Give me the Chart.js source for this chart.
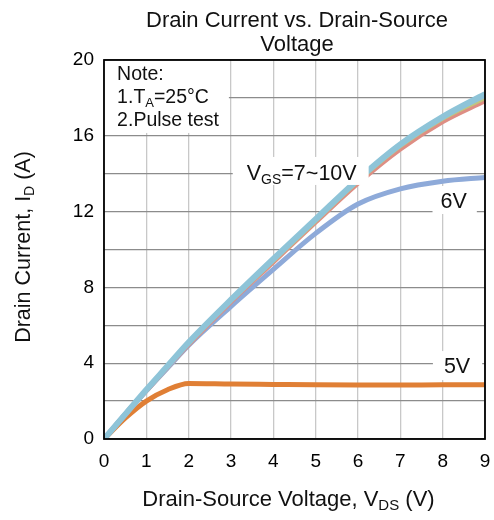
<!DOCTYPE html>
<html>
<head>
<meta charset="utf-8">
<script src="https://cdn.jsdelivr.net/npm/chart.js@4.4.1/dist/chart.umd.min.js"></script>
<style>
  html, body { margin: 0; padding: 0; background: #fff; }
</style>
</head>
<body>
<canvas id="idvds" width="494" height="520"></canvas>
<script>
// drain-source voltage (V)
const vds = [0, 0.5, 1, 1.5, 2, 3, 4, 5, 6, 7, 8, 9];

// drain current (A) for each gate voltage
const vgs10 = [0, 1.3, 2.6, 3.85, 5.1, 7.35, 9.5, 11.6, 13.7, 15.55, 17.0, 18.2];
const vgs9 = [0, 1.3, 2.6, 3.85, 5.1, 7.35, 9.45, 11.55, 13.65, 15.5, 16.95, 18.1];
const vgs8 = [0, 1.3, 2.6, 3.85, 5.05, 7.3, 9.4, 11.5, 13.6, 15.45, 16.9, 18.0];
const vgs7 = [0, 1.3, 2.55, 3.8, 5.0, 7.25, 9.35, 11.45, 13.5, 15.3, 16.75, 17.85];
const vgs6 = [0, 1.3, 2.55, 3.75, 4.95, 7.0, 8.95, 10.85, 12.4, 13.2, 13.6, 13.8];
const vgs5 = [0, 1.1, 2.0, 2.6, 2.93, 2.9, 2.88, 2.86, 2.85, 2.85, 2.86, 2.86];

const yTickLabels = [0, 4, 8, 12, 16, 20];
const noteLines = ['Note:', '1.T|A|=25°C', '2.Pulse test'];

const FONT = '"Liberation Sans", Arial, sans-serif';

function pts(ys) {
  return vds.map((v, i) => ({ x: v, y: ys[i] }));
}

function curve(label, ys, color, width) {
  return {
    label: label,
    data: pts(ys),
    borderColor: color,
    borderWidth: width,
    pointRadius: 0,
    fill: false,
    cubicInterpolationMode: 'monotone',
  };
}

// text with subscripts: "V|GS|=7~10V" -> V, GS (sub), =7~10V
function richParts(str) {
  return str.split('|').map((t, i) => ({ t: t, sub: i % 2 === 1 }));
}

function richWidth(ctx, parts, size) {
  let w = 0;
  parts.forEach(p => {
    ctx.font = (p.sub ? Math.round(size * 0.66) : size) + 'px ' + FONT;
    w += ctx.measureText(p.t).width;
  });
  return w;
}

function drawRich(ctx, str, x, y, size, align) {
  const parts = richParts(str);
  const w = richWidth(ctx, parts, size);
  let cx = align === 'center' ? x - w / 2 : x;
  ctx.textAlign = 'left';
  ctx.textBaseline = 'alphabetic';
  parts.forEach(p => {
    const s = p.sub ? Math.round(size * 0.66) : size;
    ctx.font = s + 'px ' + FONT;
    ctx.fillText(p.t, cx, p.sub ? y + size * 0.2 : y);
    cx += ctx.measureText(p.t).width;
  });
  return w;
}

const curveLabels = [
  { text: 'V|GS|=7~10V', x: 4.67, y: 13.67, pad: [14, 12, 8, 5] },
  { text: '6V', x: 8.26, y: 12.19, pad: [8, 10, 7, 6] },
  { text: '5V', x: 8.34, y: 3.48, pad: [11, 12, 7, 7] },
];

const textPlugin = {
  id: 'texts',
  afterDatasetsDraw(chart) {
    const ctx = chart.ctx;
    const xs = chart.scales.x, ys = chart.scales.y;
    const area = chart.chartArea;
    ctx.save();

    // note box in the upper left corner
    ctx.fillStyle = '#fff';
    const nr = xs.getPixelForValue(2.95), nb = ys.getPixelForValue(16.15);
    ctx.fillRect(area.left, area.top, nr - area.left, nb - area.top);
    ctx.fillStyle = '#111';
    noteLines.forEach((line, i) => {
      drawRich(ctx, line, xs.getPixelForValue(0.31), area.top + 19.5 + i * 23.4, 19.5, 'left');
    });

    // curve labels on white patches
    curveLabels.forEach(l => {
      const size = 21.5;
      const w = richWidth(ctx, richParts(l.text), size);
      const cx = xs.getPixelForValue(l.x), by = ys.getPixelForValue(l.y);
      ctx.fillStyle = '#fff';
      ctx.fillRect(cx - w / 2 - l.pad[0], by - 15 - l.pad[2], w + l.pad[0] + l.pad[1], 15 + l.pad[2] + l.pad[3]);
      ctx.fillStyle = '#111';
      drawRich(ctx, l.text, cx, by, size, 'center');
    });

    // frame
    ctx.strokeStyle = '#000';
    ctx.lineWidth = 1.8;
    ctx.strokeRect(area.left, area.top, area.right - area.left, area.bottom - area.top);
    ctx.restore();
  },
  afterDraw(chart) {
    const ctx = chart.ctx;
    ctx.save();
    ctx.fillStyle = '#111';
    // title
    drawRich(ctx, 'Drain Current vs. Drain-Source', 297, 27, 22, 'center');
    drawRich(ctx, 'Voltage', 297, 51, 22, 'center');
    // axis titles
    drawRich(ctx, 'Drain-Source Voltage, V|DS| (V)', 288.5, 506, 22, 'center');
    ctx.translate(29.5, 247);
    ctx.rotate(-Math.PI / 2);
    drawRich(ctx, 'Drain Current, I|D| (A)', 0, 0, 21.5, 'center');
    ctx.restore();
  }
};

new Chart(document.getElementById('idvds'), {
  type: 'line',
  data: {
    datasets: [
      curve('10V', vgs10, '#8ec4d8', 6),
      curve('9V', vgs9, '#9cc0cf', 4),
      curve('8V', vgs8, '#bfc77e', 4),
      curve('7V', vgs7, '#de8e84', 5),
      curve('6V', vgs6, '#8eaad9', 5),
      curve('5V', vgs5, '#e07f35', 5),
    ]
  },
  options: {
    responsive: false,
    animation: false,
    layout: { padding: { top: 60, right: 9, bottom: 0, left: 0 } },
    plugins: {
      legend: { display: false },
      title: { display: false },
      tooltip: { enabled: false },
    },
    scales: {
      x: {
        type: 'linear',
        min: 0,
        max: 9,
        afterFit: s => { s.height = 81; s.paddingLeft = 0; s.paddingRight = 0; },
        ticks: { stepSize: 1, color: '#000', padding: 11, font: { family: FONT, size: 19 } },
        grid: { color: '#c8c8c8', lineWidth: 1.3, drawTicks: false },
        border: { display: false },
      },
      y: {
        min: 0,
        max: 20,
        afterFit: s => { s.width = 104; s.paddingTop = 0; s.paddingBottom = 0; },
        ticks: {
          stepSize: 2,
          color: '#000',
          padding: 10,
          font: { family: FONT, size: 19 },
          callback: v => yTickLabels.includes(v) ? v : '',
        },
        grid: { color: '#8c8c8c', lineWidth: 1.3, drawTicks: false },
        border: { display: false },
      }
    }
  },
  plugins: [textPlugin]
});
</script>
</body>
</html>
